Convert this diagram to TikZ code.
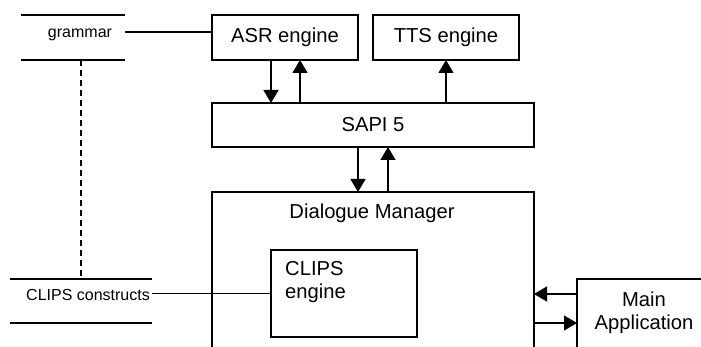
\documentclass[tikz,border=0pt]{standalone}
\usepackage{fontspec}
\setmainfont{Liberation Sans}
\usetikzlibrary{arrows.meta,calc}
\begin{document}
\begin{tikzpicture}[x=1pt,y=1pt,
  box/.style={draw, line width=1.3pt, anchor=north west, inner sep=0pt, outer sep=0pt},
  store/.style={anchor=north west, inner sep=0pt, outer sep=0pt},
  big/.style={font=\fontsize{20.2}{23}\selectfont},
  small/.style={font=\fontsize{16}{18}\selectfont},
  flow/.style={line width=1.3pt, -{Triangle[length=13pt,width=15pt]}},
  wire/.style={line width=1.3pt},
]
\clip (0,0) rectangle (701,-347);

% component boxes
\node[box, big, minimum width=146pt, minimum height=45pt] (asr) at (212,-15) {ASR engine};
\node[box, big, minimum width=146pt, minimum height=45pt] (tts) at (373,-15) {TTS engine};
\node[box, big, minimum width=322pt, minimum height=44pt] (sapi) at (212,-103) {SAPI 5};
\node[box, minimum width=322pt, minimum height=200pt] (dm) at (212,-192) {};
\node[big, anchor=base] (dmlabel) at (372,-219) {Dialogue Manager};
\node[box, minimum width=146pt, minimum height=87pt] (clips) at (271,-250) {};
\node[big, anchor=west, align=left, inner sep=0pt] (clipslabel) at (285,-282) {CLIPS\\engine};
\node[box, minimum width=140pt, minimum height=100pt] (main) at (577,-279) {};
\node[big, align=center] (mainlabel) at (644,-313) {Main\\Application};

% data stores
\node[store, minimum width=104pt, minimum height=45pt] (gstore) at (21,-15) {};
\draw[wire] (gstore.north west) -- (gstore.north east)
            (gstore.south west) -- (gstore.south east);
\node[small, anchor=base] (gram) at (80,-38) {grammar};
\node[store, minimum width=142pt, minimum height=44pt] (cstore) at (10,-279) {};
\draw[wire] (cstore.north west) -- (cstore.north east)
            (cstore.south west) -- (cstore.south east);
\node[small, anchor=base east, inner sep=0pt] (cc) at (150,-300) {CLIPS constructs};

% helper positions for the connectors
\coordinate (xa) at (271,0);
\coordinate (xb) at (300,0);
\coordinate (xc) at (446,0);
\coordinate (xd) at (358,0);
\coordinate (xe) at (388,0);
\coordinate (xg) at (81,0);
\coordinate (ya) at (0,-294);
\coordinate (yb) at (0,-323);

% connectors
\draw[wire] ([yshift=5.5pt]gstore.east) -- ([yshift=5.5pt]gstore.east -| asr.west);
\draw[wire] (cstore.east |- clips.west) -- (clips.west);
\draw[wire, dash pattern=on 6pt off 4pt] (gstore.south -| xg) -- (cstore.north -| xg);

\draw[flow] (asr.south -| xa) -- (sapi.north -| xa);
\draw[flow] (sapi.north -| xb) -- (asr.south -| xb);
\draw[flow] (sapi.north -| xc) -- (tts.south -| xc);
\draw[flow] (sapi.south -| xd) -- (dm.north -| xd);
\draw[flow] (dm.north -| xe) -- (sapi.south -| xe);
\draw[flow] (main.west |- ya) -- (dm.east |- ya);
\draw[flow] (dm.east |- yb) -- (main.west |- yb);
\end{tikzpicture}
\end{document}
